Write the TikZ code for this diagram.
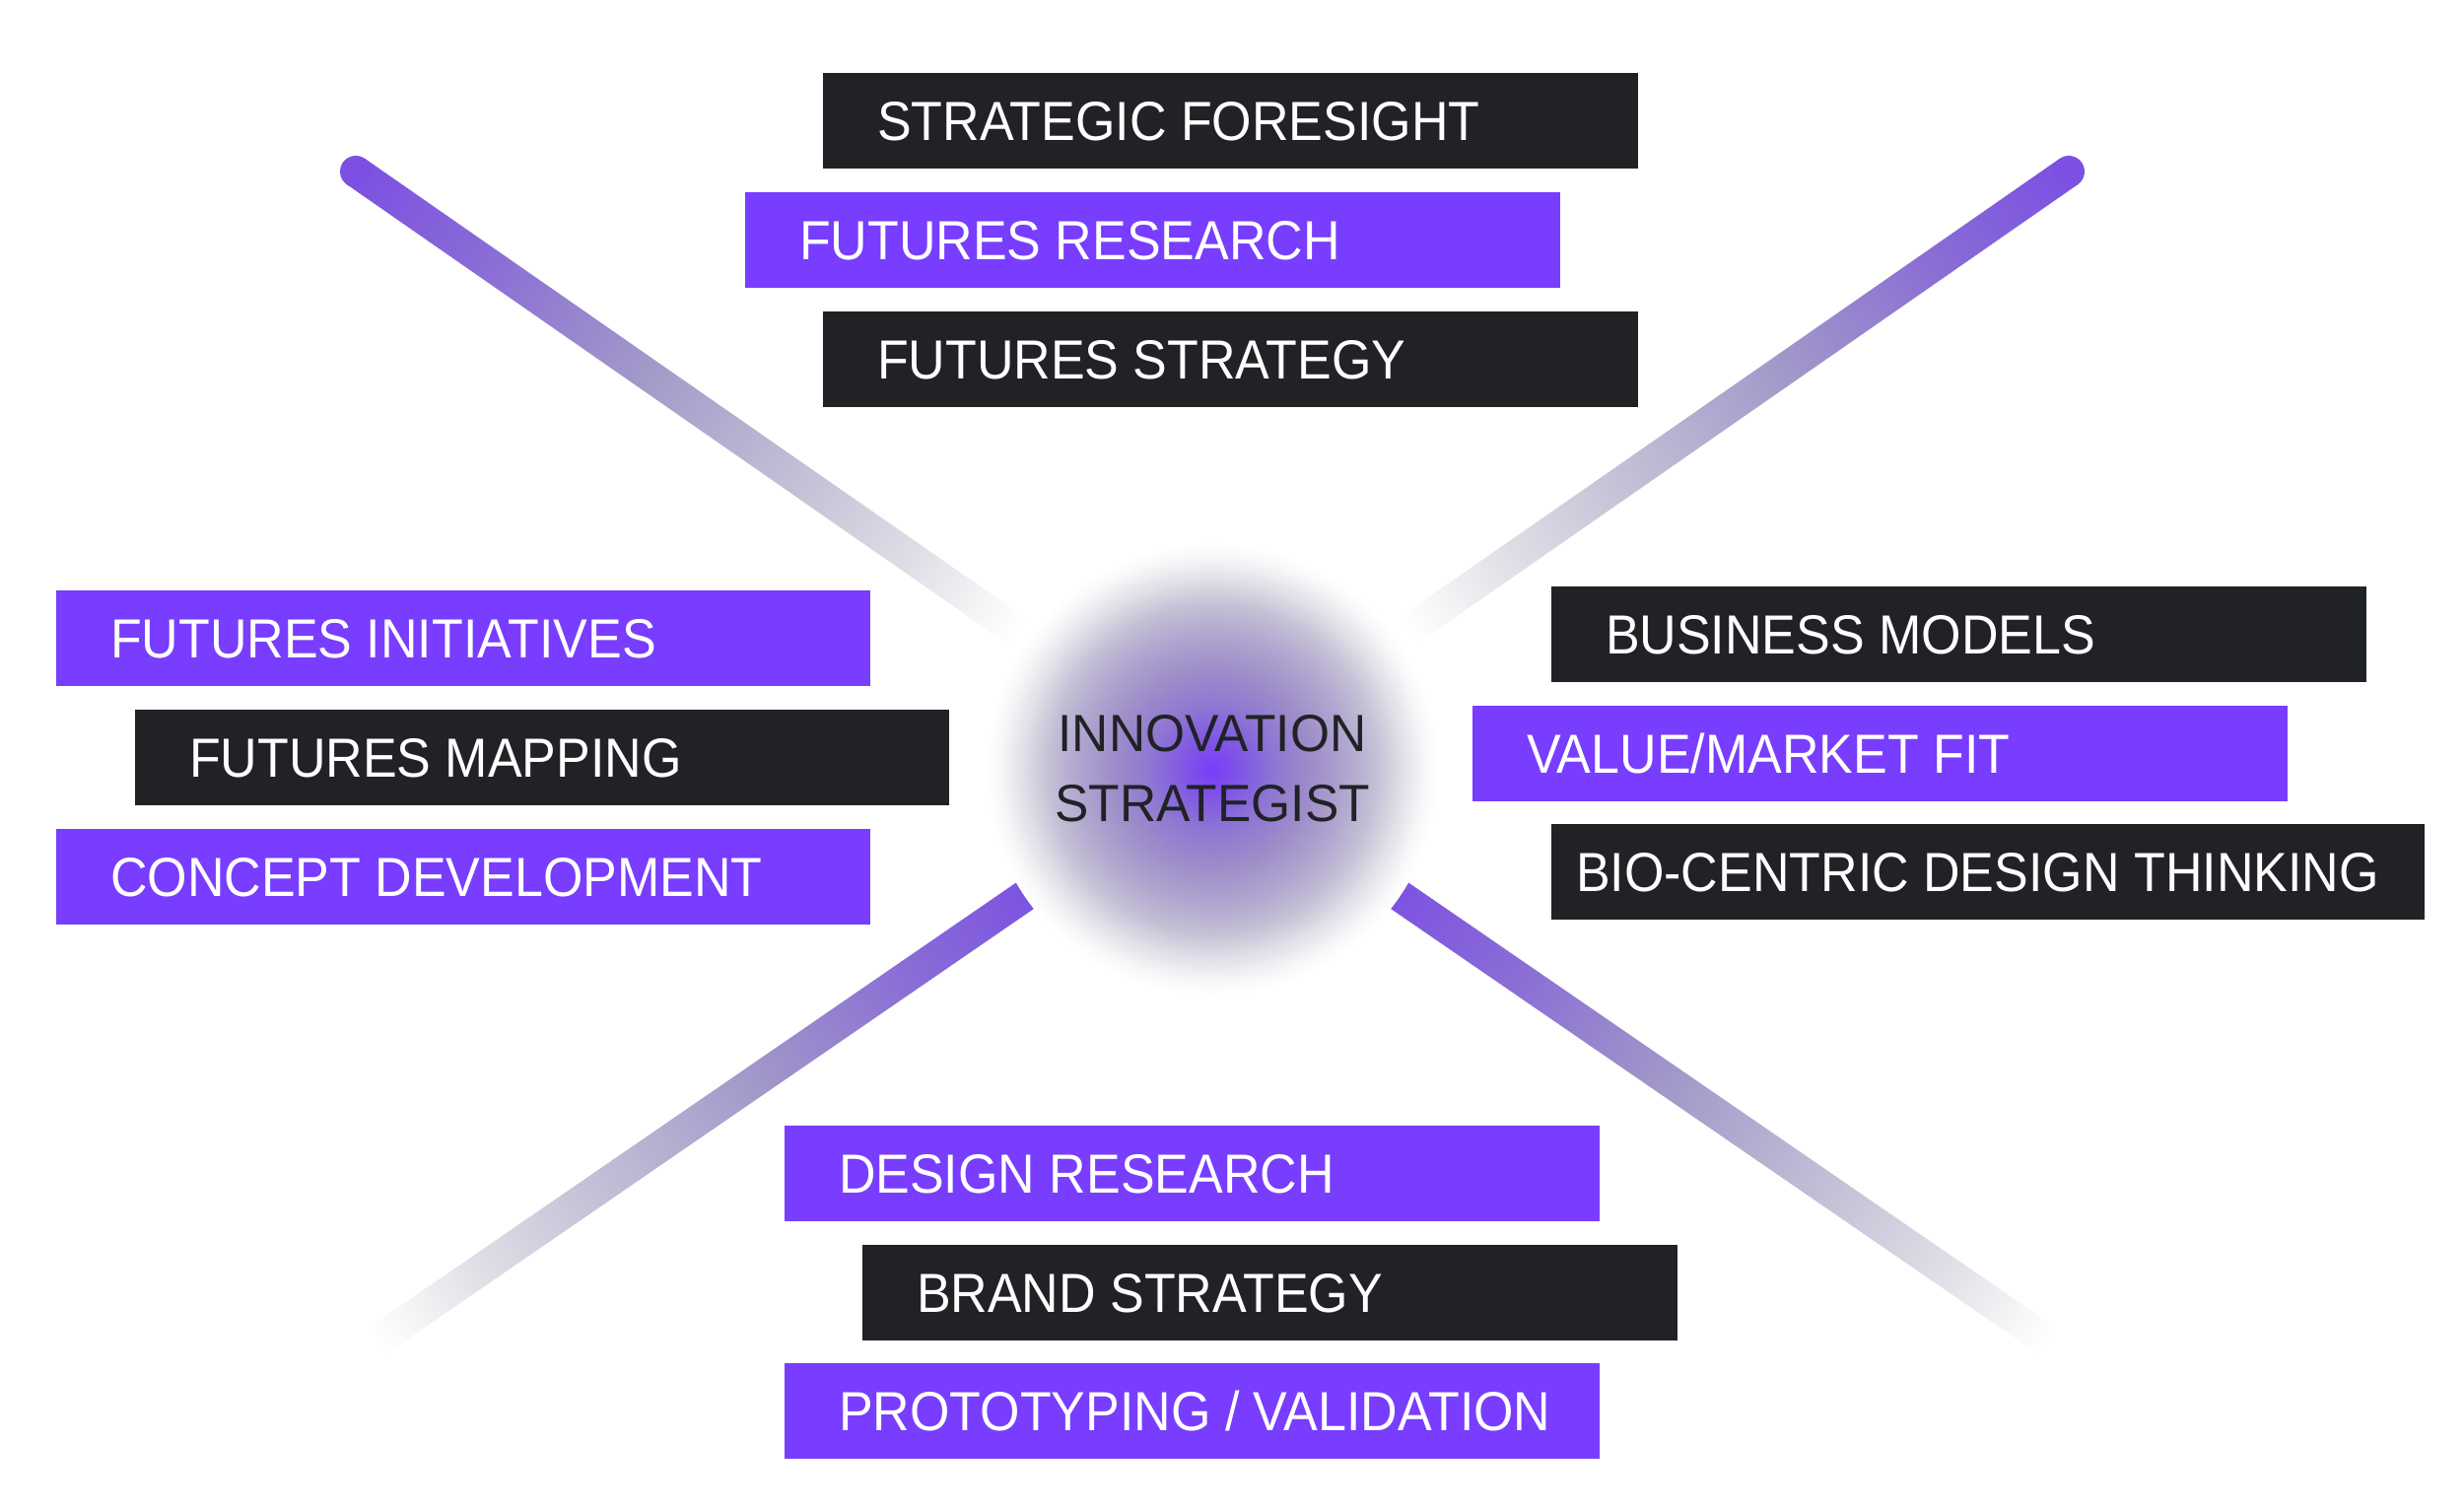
\documentclass[tikz,border=0pt]{standalone}
\usepackage{fontspec}
\newfontfamily\boxfontfam[FakeStretch=0.93]{Liberation Sans}
\newfontfamily\hubfontfam[FakeStretch=0.97]{Liberation Sans}
\newcommand\boxfont{\boxfontfam\fontsize{15.9pt}{19pt}\selectfont}
\newcommand\hubfont{\hubfontfam\fontsize{15.1pt}{20.2pt}\selectfont}
\newcommand\lbltxt[2][7.16cm]{\makebox[#1][l]{#2}}
\definecolor{boxpurple}{HTML}{783DFF}
\definecolor{boxdark}{HTML}{202226}
\definecolor{textdark}{HTML}{202226}
\definecolor{barA}{HTML}{7B50E3}
\definecolor{barB}{HTML}{8A6DD5}
\definecolor{barC}{HTML}{A298C9}
\definecolor{barD}{HTML}{C8C5D8}
\definecolor{barE}{HTML}{DFDEE6}
\definecolor{barF}{HTML}{F6F6F7}
\definecolor{gA}{HTML}{7A3CF9}
\definecolor{gB}{HTML}{7F55E6}
\definecolor{gC}{HTML}{8F77D2}
\definecolor{gD}{HTML}{9E8DC9}
\definecolor{gE}{HTML}{B1A7CF}
\definecolor{gF}{HTML}{C4BFD5}
\definecolor{gG}{HTML}{E2E0E8}
\definecolor{gH}{HTML}{F8F8F9}
\pgfdeclarehorizontalshading{barfade}{100bp}{color(0bp)=(barA); color(25bp)=(barA); color(35bp)=(barB); color(46.5bp)=(barC); color(60bp)=(barD); color(67bp)=(barE); color(72.5bp)=(barF); color(75bp)=(white); color(100bp)=(white)}
\pgfdeclareradialshading{glow}{\pgfpoint{0bp}{0bp}}{color(0bp)=(gA); color(3bp)=(gB); color(7bp)=(gC); color(11bp)=(gD); color(15bp)=(gE); color(18bp)=(gF); color(21bp)=(gG); color(23.5bp)=(gH); color(25bp)=(white); color(50bp)=(white)}
\tikzset{
  tagbox/.style={rectangle, anchor=north west, inner xsep=0.55cm, inner ysep=0pt,
    outer sep=0pt, minimum height=0.97cm, text height=11.4pt, text depth=0pt,
    font=\boxfont, text=white},
  darkbox/.style={tagbox, fill=boxdark},
  purplebox/.style={tagbox, fill=boxpurple},
  hub/.style={circle, shade, shading=glow, minimum size=4.6cm, inner sep=0pt,
    align=center, font=\hubfont, text=textdark},
}
\begin{document}
\begin{tikzpicture}[x=0.01cm, y=-0.01cm]
\useasboundingbox (0,0) rectangle (2500,1532);
\fill[white] (0,0) rectangle (2500,1532);

% bars
\begin{scope}[transform canvas={shift={(361,174)}, rotate=-34.8}]
  \shade[shading=barfade] (0,-16) rectangle (818,16);
  \fill[barA] (0,0) circle (16);
\end{scope}
\begin{scope}[transform canvas={shift={(2099,174)}, rotate=214.8}]
  \shade[shading=barfade] (0,-16) rectangle (818,16);
  \fill[barA] (0,0) circle (16);
\end{scope}
\begin{scope}[transform canvas={shift={(1057,897)}, rotate=214.5}]
  \shade[shading=barfade] (0,-16) rectangle (820,16);
\end{scope}
\begin{scope}[transform canvas={shift={(1403,897)}, rotate=-34.5}]
  \shade[shading=barfade] (0,-16) rectangle (820,16);
\end{scope}

% hub
\node[hub] (hub) at (1230,780) {INNOVATION\\STRATEGIST};

% top group
\node[darkbox]   (sf) at (835,74)   {\lbltxt{STRATEGIC FORESIGHT}};
\node[purplebox] (fr) at (756,195)  {\lbltxt{FUTURES RESEARCH}};
\node[darkbox]   (fs) at (835,316)  {\lbltxt{FUTURES STRATEGY}};
% left group
\node[purplebox] (fi) at (57,599)   {\lbltxt{FUTURES INITIATIVES}};
\node[darkbox]   (fm) at (137,720)  {\lbltxt{FUTURES MAPPING}};
\node[purplebox] (cd) at (57,841)   {\lbltxt{CONCEPT DEVELOPMENT}};
% right group
\node[darkbox]   (bm) at (1574,595) {\lbltxt{BUSINESS MODELS}};
\node[purplebox] (vm) at (1494,716) {\lbltxt{VALUE/MARKET FIT}};
\node[darkbox, inner xsep=0.25cm] (bc) at (1574,836) {\lbltxt[8.35cm]{BIO-CENTRIC DESIGN THINKING}};
% bottom group
\node[purplebox] (dr) at (796,1142) {\lbltxt{DESIGN RESEARCH}};
\node[darkbox]   (bs) at (875,1263) {\lbltxt{BRAND STRATEGY}};
\node[purplebox] (pv) at (796,1383) {\lbltxt{PROTOTYPING / VALIDATION}};
\end{tikzpicture}
\end{document}
